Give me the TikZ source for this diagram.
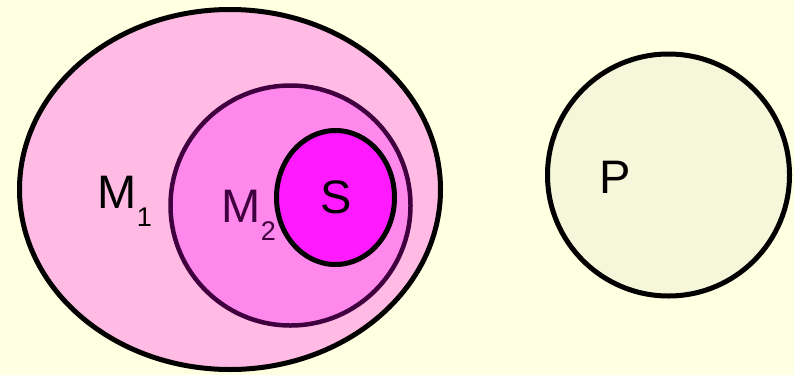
\documentclass[tikz,border=0pt]{standalone}
\usepackage{fontspec}
\setmainfont{Liberation Sans}
\usetikzlibrary{shapes.geometric}
\definecolor{paper}{HTML}{FFFFE2}
\definecolor{outerpink}{HTML}{FFBBE3}
\definecolor{midpink}{HTML}{FF88EC}
\definecolor{innerpink}{HTML}{FF1AFF}
\definecolor{beige}{HTML}{F6F6DA}
\definecolor{plum}{HTML}{400040}
\newcommand{\setsub}[1]{\raisebox{-18pt}{\fontsize{27}{27}\selectfont #1}}

\begin{document}
\begin{tikzpicture}[x=1pt, y=-1pt,
  setbox/.style={ellipse, draw=black, line width=5pt, inner sep=0pt},
  setlabel/.style={inner sep=0pt, anchor=base west, font=\fontsize{47}{50}\selectfont}
]
  \fill[paper] (0,0) rectangle (794,375);
  \useasboundingbox (0,0) rectangle (794,375);

  % nested sets
  \node[setbox, fill=outerpink, minimum width=421pt, minimum height=360pt] (m1) at (230,189.5) {};
  \node[setbox, fill=midpink, draw=plum, line width=4.5pt, minimum width=240pt, minimum height=240pt] (m2) at (290.5,205.5) {};
  \node[setbox, fill=innerpink, minimum width=118pt, minimum height=134pt] (s) at (335.5,197.5) {};
  % separate set
  \node[setbox, fill=beige, minimum width=242pt, minimum height=242pt] (p) at (668.5,175) {};

  \node[setlabel] (m1lbl) at (97.5,208) {M\setsub{1}};
  \node[setlabel, text=plum] (m2lbl) at (221.5,222) {M\setsub{2}};
  \node[setlabel, anchor=base] (slbl) at (336,213) {S};
  \node[setlabel] (plbl) at (599,193) {P};
\end{tikzpicture}
\end{document}
